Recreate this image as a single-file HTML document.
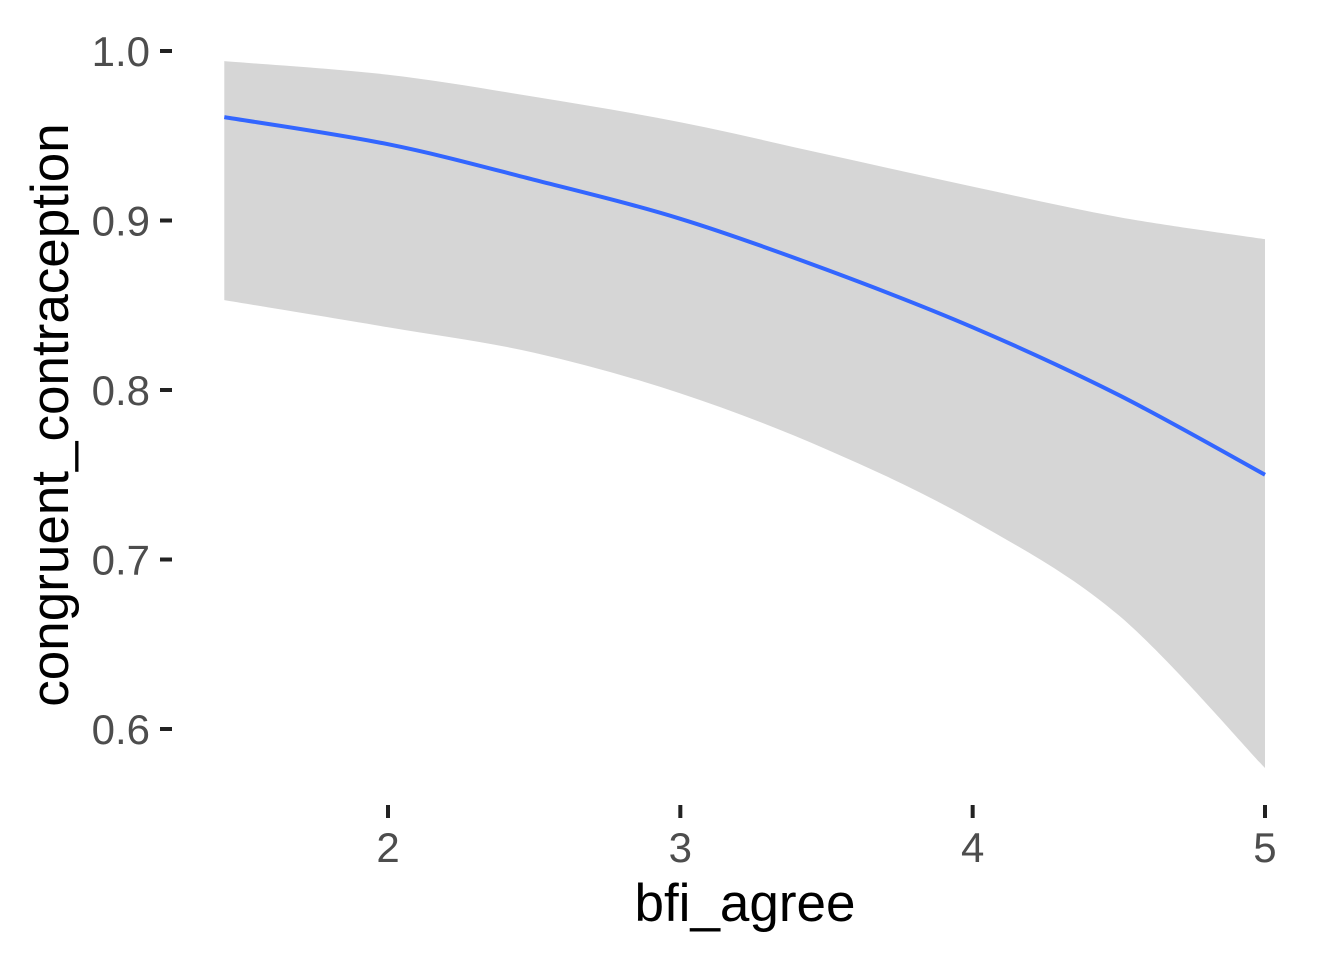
<!DOCTYPE html>
<html><head><meta charset="utf-8"><style>
html,body{margin:0;padding:0;background:#fff;}
svg{display:block;font-family:"Liberation Sans",Arial,sans-serif;}
</style></head><body>
<svg id="chart" width="1344" height="960" viewBox="0 0 1344 960" xmlns="http://www.w3.org/2000/svg">
<g id="band"></g>
<g id="line"></g>
<g id="yaxis"></g>
<g id="xaxis"></g>
<text x="745" y="921" font-size="53" text-anchor="middle" fill="#000">bfi_agree</text>
<text transform="translate(68,415) rotate(-90)" font-size="53" text-anchor="middle" fill="#000">congruent_contraception</text>
</svg>
<script>
const xs = [1.44, 2, 2.5, 3, 3.5, 4, 4.5, 5];
const fit = [0.961, 0.945, 0.924, 0.901, 0.871, 0.837, 0.797, 0.750];
const upper = [0.994, 0.986, 0.973, 0.958, 0.939, 0.920, 0.902, 0.889];
const lower = [0.853, 0.837, 0.822, 0.798, 0.765, 0.723, 0.667, 0.577];
const xTicks = [2, 3, 4, 5];
const yTicks = [0.6, 0.7, 0.8, 0.9, 1.0];
const yTickLabels = ["0.6", "0.7", "0.8", "0.9", "1.0"];

const X = v => 388 + (v - 2) * 292.33;
const Y = v => 51 + (1.0 - v) * 1695;
const NS = "http://www.w3.org/2000/svg";
function mk(tag, attrs, parent){const e=document.createElementNS(NS,tag);for(const k in attrs)e.setAttribute(k,attrs[k]);parent.appendChild(e);return e;}

function pathFrom(pts){
  let d = "M" + pts[0][0] + "," + pts[0][1];
  for(let i=0;i<pts.length-1;i++){
    const p0=pts[Math.max(0,i-1)],p1=pts[i],p2=pts[i+1],p3=pts[Math.min(pts.length-1,i+2)];
    const c1=[p1[0]+(p2[0]-p0[0])/6,p1[1]+(p2[1]-p0[1])/6];
    const c2=[p2[0]-(p3[0]-p1[0])/6,p2[1]-(p3[1]-p1[1])/6];
    d+=" C"+c1+" "+c2+" "+p2;
  }
  return d;
}
const up = xs.map((x,i)=>[X(x),Y(upper[i])]);
const lo = xs.map((x,i)=>[X(x),Y(lower[i])]).reverse();
const bandPath = pathFrom(up) + " L" + lo[0] + pathFrom(lo).slice(1).replace(/^[^C]*/,"") + " Z";
const band = mk("path",{d:bandPath,fill:"#d6d6d6",stroke:"none"},document.getElementById("band"));


const ln = mk("path",{d:pathFrom(xs.map((x,i)=>[X(x),Y(fit[i])])),fill:"none",stroke:"#3366FF",'stroke-width':4},document.getElementById("line"));



const ya = document.getElementById("yaxis");
yTicks.forEach((t,i)=>{
  const tk = mk("line",{x1:160,x2:172,y1:Y(t),y2:Y(t),stroke:"#222",'stroke-width':4},ya);
  
  
  const tx = mk("text",{x:150,y:Y(t)+15,'font-size':42,'text-anchor':'end',fill:"#4d4d4d"},ya);
  tx.textContent = yTickLabels[i];
  
  
});
const xa = document.getElementById("xaxis");
xTicks.forEach(t=>{
  const tk = mk("line",{x1:X(t),x2:X(t),y1:805,y2:818,stroke:"#222",'stroke-width':4},xa);
  
  
  const tx = mk("text",{x:X(t),y:862,'font-size':42,'text-anchor':'middle',fill:"#4d4d4d"},xa);
  tx.textContent = String(t);
  
  
});
</script>
</body></html>
